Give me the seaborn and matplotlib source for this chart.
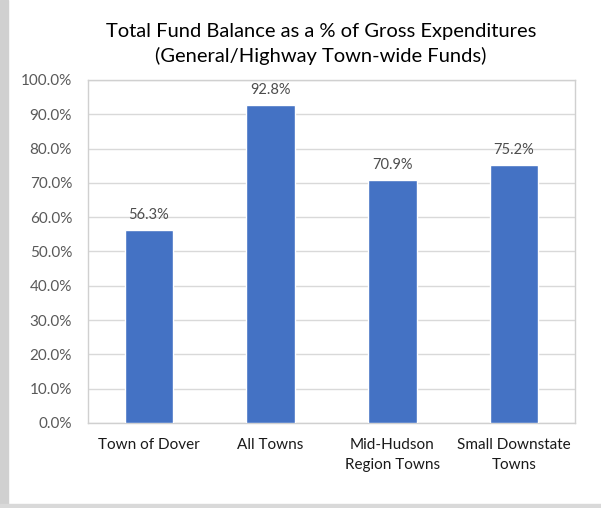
import matplotlib
matplotlib.use("Agg")
import matplotlib.pyplot as plt
import matplotlib.patches as mpatches
import pandas as pd
import seaborn as sns
from matplotlib.ticker import FuncFormatter, MultipleLocator

categories = ["Town of Dover", "All Towns", "Mid-Hudson\nRegion Towns", "Small Downstate\nTowns"]
balance_pct = [56.3, 92.8, 70.9, 75.2]

df = pd.DataFrame({"group": categories, "pct": balance_pct})

sns.set_theme(style="white")
plt.rcParams["font.family"] = ["Lato", "DejaVu Sans"]

fig = plt.figure(figsize=(6.01, 5.08), dpi=100)
ax = fig.add_axes([88 / 601, 1 - 423 / 508, (575 - 88) / 601, (423 - 80) / 508])

# grey window edges seen in the screenshot
fig.patches.append(mpatches.Rectangle((0, 0), 8 / 601, 1, transform=fig.transFigure,
                                      color="#d0d0d0", zorder=0))
fig.patches.append(mpatches.Rectangle((0, 0), 1, 4 / 508, transform=fig.transFigure,
                                      color="#d9d9d9", zorder=0))

sns.barplot(data=df, x="group", y="pct", color="#4472C4", width=0.4,
            saturation=1, ax=ax, zorder=3)

for i, v in enumerate(balance_pct):
    ax.text(i, v + 2.3, f"{v:.1f}%", ha="center", va="bottom", fontsize=10.5, color="#4d4d4d")

ax.set_ylim(0, 100)
ax.yaxis.set_major_locator(MultipleLocator(10))
ax.yaxis.set_major_formatter(FuncFormatter(lambda y, _: f"{y:.1f}%"))
ax.grid(axis="y", color="#d9d9d9", linewidth=1, zorder=0)
ax.set_axisbelow(True)
ax.set_xlabel("")
ax.set_ylabel("")
ax.tick_params(axis="y", labelsize=11, colors="#595959", length=0, pad=11.5)
ax.tick_params(axis="x", labelsize=11, colors="#1a1a1a", length=0, pad=11)
for lbl in ax.get_xticklabels():
    lbl.set_linespacing(1.55)
for s in ax.spines.values():
    s.set_color("#d0d0d0")
    s.set_linewidth(1)

fig.text(321 / 601, 1 - 44 / 508,
         "Total Fund Balance as a % of Gross Expenditures\n(General/Highway Town-wide Funds)",
         ha="center", va="center", fontsize=14.5, color="#000000", linespacing=1.5)

fig.savefig("out.png", dpi=100)
